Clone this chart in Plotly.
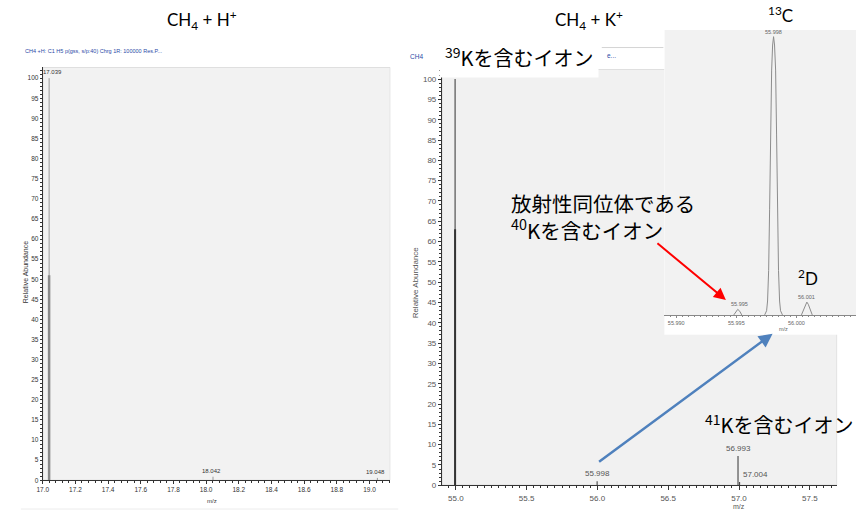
import plotly.graph_objects as go

W, H = 856, 517


def px(v):
    return v / W


def py(v):
    return 1 - v / H


# ---------------- data ----------------
left_mz = [17.039, 18.042, 19.048]
left_ab = [100, 0.9, 0.6]
left_labels = ["17.039", "18.042", "19.048"]
left_body_mz = [17.039]
left_body_ab = [51]

right_mz = [54.995, 55.998, 56.993, 57.004]
right_ab = [100, 1.0, 7.2, 0.8]
right_labels = ["55.998", "56.993", "57.004"]
right_label_mz = [55.998, 56.993, 57.004]
right_label_ab = [1.0, 7.2, 0.8]
right_body_mz = [54.995]
right_body_ab = [63]

# inset (zoom around m/z 56.000)
c13_mz = [55.99736, 55.99752, 55.99760, 55.99769, 55.99777, 55.99785, 55.99794, 55.99802,
          55.99810, 55.99818, 55.99827, 55.99835, 55.99843, 55.99851, 55.99860, 55.99868, 55.99884]
c13_ab = [0, 1.5, 5, 16, 38, 65, 88, 97, 100, 97, 88, 65, 38, 16, 5, 1.5, 0]
k40_mz = [55.99479, 55.99496, 55.99512, 55.99529, 55.99545]
k40_ab = [0, 1.3, 2.0, 1.3, 0]
d2_mz = [56.00042, 56.00062, 56.00075, 56.00087, 56.00099, 56.00112, 56.00132]
d2_ab = [0, 2.0, 3.8, 4.6, 3.8, 2.0, 0]
inset_labels = ["55.995", "55.998", "56.001"]
inset_label_mz = [55.99512, 55.99810, 56.00087]
inset_label_ab = [2.0, 100, 4.6]

LX = [17.0, 19.127]
LY = [0, 102.7]
RX = [54.902, 57.693]
RY = [0, 102.4]
IX = [55.98901, 56.00496]
IY = [-7.12, 102.5]


def sticks(mz, ab):
    xs, ys = [], []
    for m, a in zip(mz, ab):
        xs += [m, m, None]
        ys += [0, a, None]
    return xs, ys


fig = go.Figure()

x, y = sticks(left_mz, left_ab)
fig.add_trace(go.Scatter(x=x, y=y, mode="lines", line=dict(color="#9a9a9a", width=1),
                         xaxis="x", yaxis="y", hoverinfo="skip"))
x, y = sticks(left_body_mz, left_body_ab)
fig.add_trace(go.Scatter(x=x, y=y, mode="lines", line=dict(color="#8a8a8a", width=2.5),
                         xaxis="x", yaxis="y", hoverinfo="skip"))

x, y = sticks(right_mz, right_ab)
fig.add_trace(go.Scatter(x=x, y=y, mode="lines", line=dict(color="#444444", width=1.1),
                         xaxis="x2", yaxis="y2", hoverinfo="skip"))
x, y = sticks(right_body_mz, right_body_ab)
fig.add_trace(go.Scatter(x=x, y=y, mode="lines", line=dict(color="#333333", width=2),
                         xaxis="x2", yaxis="y2", hoverinfo="skip"))

for mzs, abs_ in [(c13_mz, c13_ab), (k40_mz, k40_ab), (d2_mz, d2_ab)]:
    fig.add_trace(go.Scatter(x=mzs, y=abs_, mode="lines", line=dict(color="#8c8c8c", width=1),
                             xaxis="x3", yaxis="y3", hoverinfo="skip"))

NARROW = "Liberation Sans Narrow, Liberation Sans, Arial"
tick_small = dict(family=NARROW, size=6.5, color="#333")
tick_mid = dict(family="Liberation Sans, Arial", size=8, color="#555")
tick_inset = dict(family="Liberation Sans, Arial", size=5.5, color="#666")

common = dict(showgrid=False, zeroline=False, showline=True, linecolor="#333", linewidth=1,
              ticks="outside", tickcolor="#333", fixedrange=True)

fig.update_layout(
    width=W, height=H,
    margin=dict(l=0, r=0, t=0, b=0),
    paper_bgcolor="white", plot_bgcolor="white",
    showlegend=False,
    xaxis=dict(domain=[px(37), px(387)], range=LX, anchor="y", dtick=0.2, tick0=17.0,
               tickformat=".1f", tickfont=tick_small, ticklen=3,
               minor=dict(dtick=0.04, ticks="outside", ticklen=1.5, tickcolor="#333"), **common),
    yaxis=dict(domain=[py(485), py(68)], range=LY, anchor="x", dtick=5, tick0=0,
               tickfont=tick_small, ticklen=2,
               minor=dict(dtick=1, ticks="outside", ticklen=1.5, tickcolor="#333"), **common),
    xaxis2=dict(domain=[px(439), px(837)], range=RX, anchor="y2", dtick=0.5, tick0=55.0,
                tickformat=".1f", tickfont=tick_mid, ticklen=4, ticklabelstandoff=1,
                minor=dict(dtick=0.05, ticks="outside", ticklen=2, tickcolor="#333"), **common),
    yaxis2=dict(domain=[py(490), py(70)], range=RY, anchor="x2", dtick=5, tick0=0,
                tickfont=tick_mid, ticklen=3,
                minor=dict(dtick=1, ticks="outside", ticklen=2, tickcolor="#333"), **common),
    xaxis3=dict(domain=[px(663), 1.0], range=IX, anchor="free", position=py(318),
                dtick=0.005, tick0=55.990, tickformat=".3f", tickfont=tick_inset,
                showgrid=False, zeroline=False, showline=True, linecolor="#888", linewidth=1,
                ticks="outside", tickcolor="#888", ticklen=2, fixedrange=True,
                minor=dict(dtick=0.0005, ticks="outside", ticklen=1.5, tickcolor="#888")),
    yaxis3=dict(domain=[py(338), py(30)], range=IY, anchor="x3", visible=False,
                showgrid=False, zeroline=False, fixedrange=True),
)

# plot-area backgrounds and frame lines
fig.add_shape(type="rect", xref="x", yref="y", x0=LX[0], x1=LX[1], y0=LY[0], y1=LY[1],
              fillcolor="#f2f2f2", line=dict(color="#d0d0d0", width=1), layer="below")
fig.add_shape(type="rect", xref="x2", yref="y2", x0=RX[0], x1=RX[1], y0=RY[0], y1=RY[1],
              fillcolor="#f1f1f1", line=dict(color="#d0d0d0", width=1), layer="below")
fig.add_shape(type="rect", xref="x3", yref="y3", x0=IX[0], x1=IX[1], y0=0, y1=IY[1],
              fillcolor="#f2f2f2", line=dict(width=0), layer="below")
fig.add_shape(type="line", xref="paper", yref="paper", x0=px(600), x1=px(662), y0=py(48), y1=py(48),
              line=dict(color="#d4d4d4", width=1), layer="below")
fig.add_shape(type="line", xref="paper", yref="paper", x0=px(15), x1=px(395), y0=py(514), y1=py(514),
              line=dict(color="#ececec", width=1), layer="below")

ann = []
# peak labels
for m, a, t in zip(left_mz, left_ab, left_labels):
    ann.append(dict(x=m, y=a, xref="x", yref="y", text=t, showarrow=False, yanchor="bottom",
                    xanchor="center", xshift=3 if t == "17.039" else -2, yshift=1,
                    font=dict(family=NARROW, size=6, color="#333")))
for m, a, t in zip(right_label_mz, right_label_ab, right_labels):
    ann.append(dict(x=m, y=a, xref="x2", yref="y2", text=t, showarrow=False, yanchor="bottom",
                    xanchor="left" if t == "57.004" else "center",
                    xshift=1 if t == "57.004" else 0, yshift=1,
                    font=dict(family="Liberation Sans, Arial", size=8, color="#555")))
for m, a, t in zip(inset_label_mz, inset_label_ab, inset_labels):
    ann.append(dict(x=m, y=a, xref="x3", yref="y3", text=t, showarrow=False, yanchor="bottom",
                    xanchor="center", xshift=2 if t == "55.995" else 0, yshift=0,
                    font=dict(family="Liberation Sans, Arial", size=5.5, color="#666")))


def label(xp, yp, text, font, xanchor="center", **kw):
    d = dict(x=px(xp), y=py(yp), xref="paper", yref="paper", text=text, showarrow=False,
             xanchor=xanchor, yanchor="middle", font=font)
    d.update(kw)
    return d


# axis titles
ann += [
    label(207, 506, "m/z", dict(family=NARROW, size=6, color="#333")),
    label(738, 511, "m/z", dict(family="Liberation Sans", size=7, color="#555")),
    label(783, 332, "m/z", dict(family="Liberation Sans", size=5.5, color="#666")),
    label(19, 275, "Relative Abundance", dict(family="Liberation Sans", size=7, color="#333"),
          textangle=-90),
    label(412, 285, "Relative Abundance", dict(family="Liberation Sans", size=8, color="#555"),
          textangle=-90),
]

# headers (right one is mostly hidden by the white note box)
ann += [
    label(17, 52, "CH4 +H: C1 H5 p(gss, s/p:40) Chrg 1R: 100000 Res.P...",
          dict(family=NARROW, size=5.5, color="#2b4aa6"), xanchor="left"),
    label(405, 57, "CH4", dict(family="Liberation Sans", size=6.5, color="#2b4aa6"), xanchor="left"),
    label(603, 56, "e...", dict(family="Liberation Sans", size=6.5, color="#2b4aa6"), xanchor="left"),
    label(517, 58, "<sup>39</sup>Kを含むイオン",
          dict(family="Noto Sans CJK JP", size=20, color="black"), bgcolor="white", borderpad=5),
]

# titles and notes
CAL = dict(family="Lato", size=17, color="black")
JP = dict(family="Noto Sans CJK JP", size=20, color="black")
ann += [
    label(197, 20, "CH<sub>4</sub> + H<sup>+</sup>", CAL),
    label(587, 20, "CH<sub>4</sub> + K<sup>+</sup>", CAL),
    label(780, 15, "<sup>13</sup>C", CAL),
    label(808, 280, "<sup>2</sup>D", CAL),
    label(507, 219, "放射性同位体である<br><sup>40</sup>Kを含むイオン",
          dict(family="Noto Sans CJK JP", size=20.5, color="black"), xanchor="left", align="left"),
    label(702, 428, "<sup>41</sup>Kを含むイオン", JP, xanchor="left"),
]

# arrows
ann += [
    dict(x=px(725), y=py(303), xref="paper", yref="paper", text="", showarrow=True,
         ax=-70, ay=-58, arrowcolor="#ff0000", arrowwidth=2, arrowhead=2, arrowsize=1.2),
    dict(x=px(772), y=py(337), xref="paper", yref="paper", text="", showarrow=True,
         ax=-175, ay=129, arrowcolor="#4f81bd", arrowwidth=2.5, arrowhead=2, arrowsize=1.1),
]

fig.update_layout(annotations=ann)
fig.write_html(
    "out.html",
    config={"displayModeBar": False},
    post_script="document.body.style.margin='0';document.body.style.padding='0';"
                "document.body.style.overflow='hidden';",
)
